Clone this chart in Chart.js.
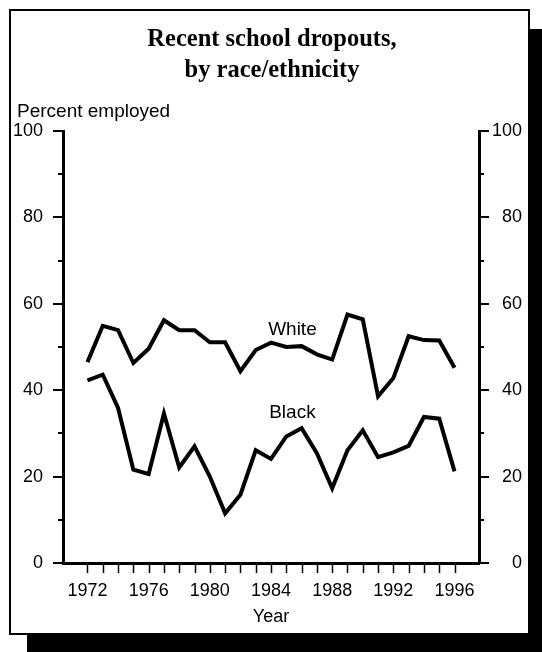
<!DOCTYPE html>
<html>
<head>
<meta charset="utf-8">
<script src="https://cdn.jsdelivr.net/npm/chart.js@4/dist/chart.umd.min.js"></script>
<style>
  html, body { margin: 0; padding: 0; background: #fff; }
  body { width: 542px; height: 652px; position: relative; overflow: hidden; }
  #panel {
    position: absolute; left: 9px; top: 9px; width: 517px; height: 622px;
    border: 2px solid #000; background: #fff;
    box-shadow: 18px 20px 0 #000;
  }
  #chart { position: absolute; left: 0; top: 0; }
</style>
</head>
<body>
<div id="panel"></div>
<canvas id="chart" width="542" height="652"></canvas>
<script>
// Percent employed, recent school dropouts
const years = [1972, 1973, 1974, 1975, 1976, 1977, 1978, 1979, 1980, 1981, 1982, 1983, 1984,
               1985, 1986, 1987, 1988, 1989, 1990, 1991, 1992, 1993, 1994, 1995, 1996];
const white = [46.5, 54.9, 53.9, 46.3, 49.6, 56.2, 53.9, 53.9, 51.1, 51.1, 44.4, 49.3, 51.0,
               50.0, 50.2, 48.3, 47.1, 57.5, 56.4, 38.6, 42.8, 52.5, 51.6, 51.5, 45.2];
const black = [42.3, 43.6, 35.9, 21.6, 20.6, 34.6, 22.1, 27.0, 20.0, 11.5, 15.8, 26.1, 24.1,
               29.3, 31.2, 25.4, 17.3, 26.1, 30.7, 24.5, 25.6, 27.1, 33.8, 33.4, 21.2];
const xTickLabels = ['1972', '1976', '1980', '1984', '1988', '1992', '1996'];
const yTicks = [0, 10, 20, 30, 40, 50, 60, 70, 80, 90, 100];
const yTickLabels = ['0', '20', '40', '60', '80', '100'];
const titleLines = ['Recent school dropouts,', 'by race/ethnicity'];

const sans = 'Liberation Sans, Arial, Helvetica, sans-serif';

// tick marks: every year on x, majors longer than minors on both y axes
const tickMarks = {
  id: 'tickMarks',
  afterDraw(chart) {
    const ctx = chart.ctx;
    const area = chart.chartArea;
    const xs = chart.scales.x, ys = chart.scales.y;
    ctx.save();
    ctx.strokeStyle = '#000';
    ctx.lineWidth = 1.5;
    years.forEach(v => {
      const px = Math.round(xs.getPixelForValue(v)) + 0.5;
      ctx.beginPath();
      ctx.moveTo(px, area.bottom + 2);
      ctx.lineTo(px, area.bottom + 10);
      ctx.stroke();
    });
    ctx.lineWidth = 2;
    yTicks.forEach(v => {
      const py = Math.round(ys.getPixelForValue(v));
      const len = yTickLabels.includes(String(v)) ? 10 : 5;
      ctx.beginPath();
      ctx.moveTo(area.left - len, py);
      ctx.lineTo(area.left, py);
      ctx.moveTo(area.right, py);
      ctx.lineTo(area.right + len, py);
      ctx.stroke();
    });
    ctx.restore();
  }
};

// title, axis caption and the series names
const labels = {
  id: 'labels',
  afterDraw(chart) {
    const ctx = chart.ctx;
    const area = chart.chartArea;
    const xs = chart.scales.x, ys = chart.scales.y;
    ctx.save();
    ctx.fillStyle = '#000';
    ctx.textAlign = 'center';
    ctx.textBaseline = 'middle';
    ctx.font = 'bold 24.5px Liberation Serif, Times New Roman, serif';
    titleLines.forEach((t, i) => ctx.fillText(t, 272, 40 + i * 31));
    ctx.font = '19px ' + sans;
    ctx.textBaseline = 'alphabetic';
    ctx.textAlign = 'left';
    ctx.fillText('Percent employed', area.left - 46, area.top - 14);
    ctx.textAlign = 'center';
    ctx.fillText('White', xs.getPixelForValue(1985.4), ys.getPixelForValue(52.7));
    ctx.fillText('Black', xs.getPixelForValue(1985.4), ys.getPixelForValue(33.6));
    ctx.restore();
  }
};

function yAxis(position, width) {
  return {
    type: 'linear',
    position: position,
    min: 0,
    max: 100,
    afterBuildTicks: axis => { axis.ticks = yTicks.map(v => ({ value: v })); },
    afterFit: axis => { axis.width = width; },
    grid: { display: false, drawTicks: true, tickLength: 10 },
    border: { display: true, color: '#000', width: 3 },
    ticks: {
      color: '#000',
      font: { family: sans, size: 18 },
      padding: position === 'left' ? 10 : 2,
      crossAlign: position === 'left' ? 'near' : 'far',
      callback: v => yTickLabels.includes(String(v)) ? String(v) : ''
    }
  };
}

new Chart(document.getElementById('chart'), {
  type: 'line',
  data: {
    datasets: [
      { label: 'White', data: years.map((y, i) => ({ x: y, y: white[i] })) },
      { label: 'Black', data: years.map((y, i) => ({ x: y, y: black[i] })) }
    ]
  },
  options: {
    responsive: false,
    animation: false,
    devicePixelRatio: 1,
    layout: { padding: { left: 10, right: 20, top: 131, bottom: 19 } },
    elements: {
      line: { borderColor: '#000', borderWidth: 4, tension: 0, fill: false },
      point: { radius: 0 }
    },
    plugins: {
      legend: { display: false },
      tooltip: { enabled: false },
      title: { display: false }
    },
    scales: {
      x: {
        type: 'linear',
        min: 1970.4,
        max: 1997.6,
        afterBuildTicks: axis => { axis.ticks = years.map(v => ({ value: v })); },
        afterFit: axis => { axis.height = 70; },
        grid: { display: false, drawTicks: true, tickLength: 8 },
        border: { display: true, color: '#000', width: 3 },
        ticks: {
          color: '#000',
          font: { family: sans, size: 18 },
          padding: 9,
          autoSkip: false,
          maxRotation: 0,
          callback: v => xTickLabels.includes(String(v)) ? String(v) : ''
        },
        title: {
          display: true,
          text: 'Year',
          color: '#000',
          font: { family: sans, size: 18 },
          padding: { top: 0, bottom: 5 }
        }
      },
      y: yAxis('left', 53),
      y2: yAxis('right', 43)
    }
  },
  plugins: [tickMarks, labels]
});
</script>
</body>
</html>
